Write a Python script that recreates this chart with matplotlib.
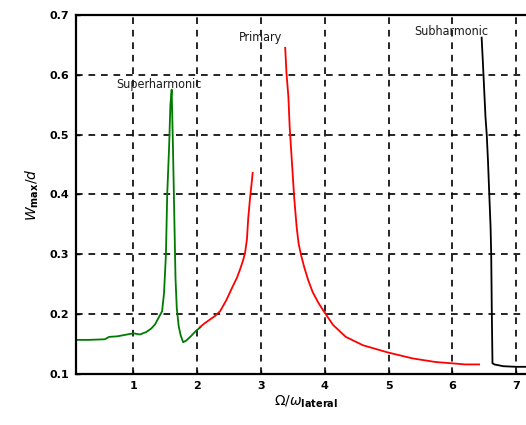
import numpy as np
import matplotlib
matplotlib.use("Agg")
import matplotlib.pyplot as plt

# superharmonic branch (green)
sup_x = [0.10, 0.30, 0.55, 0.62, 0.75, 0.90, 1.00, 1.10, 1.20, 1.28, 1.34, 1.40, 1.45,
         1.48, 1.51, 1.53, 1.56, 1.58, 1.60, 1.62, 1.64, 1.66, 1.68, 1.71, 1.74, 1.78,
         1.83, 1.90, 1.98, 2.05]
sup_y = [0.157, 0.157, 0.158, 0.162, 0.163, 0.166, 0.168, 0.166, 0.170, 0.176, 0.183, 0.195, 0.205,
         0.235, 0.300, 0.400, 0.480, 0.550, 0.575, 0.480, 0.370, 0.260, 0.210, 0.180, 0.165, 0.153,
         0.156, 0.163, 0.172, 0.178]

# primary resonance, lower and upper branches (red)
pri1_x = [2.04, 2.12, 2.20, 2.28, 2.36, 2.46, 2.56, 2.62, 2.67, 2.72, 2.75, 2.78, 2.80, 2.83, 2.85, 2.87]
pri1_y = [0.178, 0.185, 0.191, 0.197, 0.205, 0.224, 0.247, 0.260, 0.274, 0.290, 0.302, 0.325, 0.360, 0.395, 0.415, 0.436]
pri2_x = [3.38, 3.40, 3.43, 3.45, 3.48, 3.52, 3.56, 3.59, 3.63, 3.68, 3.74, 3.81, 3.90, 3.99,
          4.13, 4.33, 4.60, 4.99, 5.38, 5.74, 5.98, 6.20, 6.42]
pri2_y = [0.645, 0.603, 0.563, 0.513, 0.463, 0.396, 0.345, 0.318, 0.298, 0.278, 0.257, 0.237, 0.219, 0.204,
          0.182, 0.162, 0.148, 0.136, 0.126, 0.120, 0.118, 0.116, 0.116]

# subharmonic branch (black)
sub_x = [6.46, 6.48, 6.50, 6.52, 6.54, 6.56, 6.58, 6.60, 6.61, 6.62, 6.63, 6.66, 6.80, 7.00, 7.30]
sub_y = [0.662, 0.620, 0.575, 0.530, 0.500, 0.455, 0.400, 0.346, 0.300, 0.200, 0.118, 0.116, 0.113, 0.112, 0.112]

xticks = [1, 2, 3, 4, 5, 6, 7]
yticks = [0.1, 0.2, 0.3, 0.4, 0.5, 0.6, 0.7]

fig = plt.figure(figsize=(5.26, 4.25), dpi=100)
ax = fig.add_axes([0.1445, 0.12, 0.873, 0.845])

ax.plot(sup_x, sup_y, color='#007a00', lw=1.3)
ax.plot(pri1_x, pri1_y, color='#ff0000', lw=1.3)
ax.plot(pri2_x, pri2_y, color='#ff0000', lw=1.3)
ax.plot(sub_x, sub_y, color='black', lw=1.3)

ax.set_xlim(0.1, 7.3)
ax.set_ylim(0.1, 0.7)
ax.set_xticks(xticks)
ax.set_yticks(yticks)
ax.set_xticklabels([str(t) for t in xticks], fontsize=8, fontweight='bold')
ax.set_yticklabels(['%.1f' % t for t in yticks], fontsize=8, fontweight='bold')
ax.tick_params(direction='in', length=3, width=1, pad=5)
ax.grid(True, color='black', linestyle=(0, (4, 3.5)), linewidth=1.2)
for s in ax.spines.values():
    s.set_linewidth(1.6)

lbl = dict(fontsize=9, color='#1a1a1a', ha='center', va='center', fontstretch='condensed')
ax.text(1.40, 0.583, 'Superharmonic', **lbl)
ax.text(3.00, 0.663, 'Primary', **lbl)
ax.text(5.99, 0.672, 'Subharmonic', **lbl)

ax.set_ylabel(r'$W_{\mathbf{max}}/d$', fontsize=10, labelpad=6)
ax.set_xlabel(r'$\Omega/\omega_{\mathbf{lateral}}$', fontsize=10, labelpad=2)

fig.savefig('out.png', dpi=100)
